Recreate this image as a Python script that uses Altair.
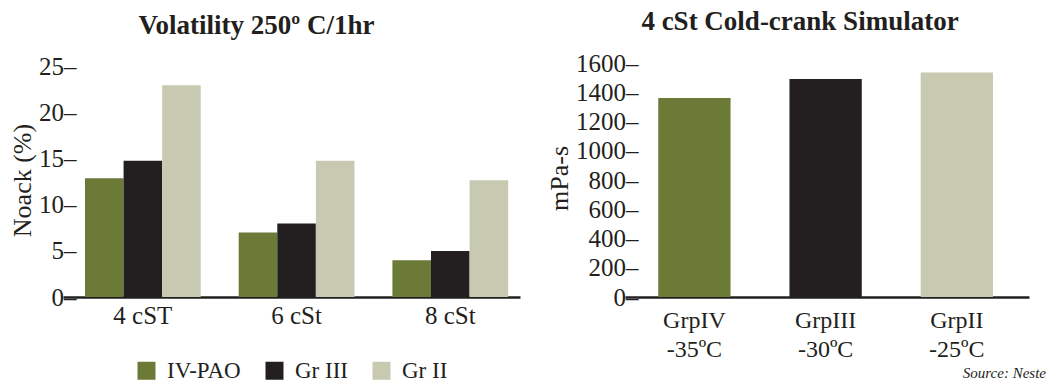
import altair as alt
import pandas as pd

# ---- data ----
categories = ["4 cST", "6 cSt", "8 cSt"]
series = ["IV-PAO", "Gr III", "Gr II"]
pao_vals = [12.9, 7.0, 4.0]
gr3_vals = [14.8, 8.0, 5.0]
gr2_vals = [23.0, 14.8, 12.7]

cold_groups = ["GrpIV|-35ºC", "GrpIII|-30ºC", "GrpII|-25ºC"]
cold_values = [1360, 1490, 1535]

colors = ["#6b7a37", "#231f20", "#c8c9b1"]
ink = "#231f20"
FONT = "Liberation Serif"

rows = []
for s, vals in zip(series, [pao_vals, gr3_vals, gr2_vals]):
    for c, v in zip(categories, vals):
        rows.append({"cat": c, "series": s, "value": v})
df_vol = pd.DataFrame(rows)
df_cold = pd.DataFrame({"grp": cold_groups, "value": cold_values, "color": colors})

H = 234

left = alt.Chart(df_vol).mark_bar().encode(
    x=alt.X("cat:N", sort=categories, title=None,
            scale=alt.Scale(paddingInner=0.247, paddingOuter=0.11, align=0.65),
            axis=alt.Axis(labelAngle=0, labelFontSize=25, labelPadding=6, ticks=False,
                          domainWidth=2.5, domainColor=ink, labelColor=ink, labelFont=FONT)),
    xOffset=alt.XOffset("series:N", sort=series),
    y=alt.Y("value:Q", title="Noack (%)",
            scale=alt.Scale(domain=[0, 25.43], nice=False),
            axis=alt.Axis(values=[0, 5, 10, 15, 20, 25], labelExpr="datum.label + '–'",
                          labelPadding=-13, labelFontSize=25, ticks=False, domain=False,
                          grid=False, labelColor=ink, labelFont=FONT,
                          titleFont=FONT, titleFontSize=26, titleFontWeight="normal",
                          titleColor=ink, titleX=-41, titleY=117, titleAngle=270,
                          titleAlign="center", titleBaseline="middle")),
    color=alt.Color("series:N", sort=series,
                    scale=alt.Scale(domain=series, range=colors),
                    legend=alt.Legend(title=None, orient="none", legendX=72, legendY=296,
                                      direction="horizontal", symbolType="square",
                                      symbolSize=324, symbolStrokeWidth=0, symbolOpacity=1,
                                      labelFont=FONT, labelFontSize=23, labelColor=ink,
                                      labelOffset=9, columnPadding=22)),
).properties(
    width=457, height=H,
    title=alt.TitleParams("Volatility 250º C/1hr", font=FONT, fontSize=27, fontWeight="bold",
                          color=ink, anchor="middle", frame="group", dx=-35, offset=-6,
                          baseline="alphabetic"),
)

bars = alt.Chart(df_cold).mark_bar().encode(
    x=alt.X("grp:N", sort=cold_groups, title=None,
            scale=alt.Scale(paddingInner=0.449, paddingOuter=0.264, align=0.48),
            axis=alt.Axis(labelAngle=0, labelFontSize=24, labelPadding=11, ticks=False,
                          labelExpr="split(datum.label, '|')", labelLineHeight=29,
                          domainWidth=2.5, domainColor=ink, labelColor=ink, labelFont=FONT)),
    y=alt.Y("value:Q", title="mPa-s",
            scale=alt.Scale(domain=[0, 1600], nice=False),
            axis=alt.Axis(values=list(range(0, 1601, 200)), labelExpr="datum.label + '–'",
                          format="d",
                          labelPadding=-13, labelFontSize=25, ticks=False, domain=False,
                          grid=False, labelColor=ink, labelFont=FONT,
                          titleFont=FONT, titleFontSize=26, titleFontWeight="normal",
                          titleColor=ink, titleX=-66, titleY=115, titleAngle=270,
                          titleAlign="center", titleBaseline="middle")),
    color=alt.Color("color:N", scale=None),
)

source = alt.Chart(pd.DataFrame({"t": ["Source: Neste"]})).mark_text(
    font=FONT, fontSize=15, fontStyle="italic", align="right", baseline="alphabetic",
    color=ink,
).encode(text="t:N", x=alt.value(421), y=alt.value(315))

right = alt.layer(bars, source).properties(
    width=404, height=H,
    title=alt.TitleParams("4 cSt Cold-crank Simulator", font=FONT, fontSize=27, fontWeight="bold",
                          color=ink, anchor="middle", frame="group", dx=-27, offset=-6,
                          baseline="alphabetic"),
)

chart = alt.hconcat(left, right, spacing=105, bounds="flush").resolve_scale(
    color="independent"
).properties(
    autosize=alt.AutoSizeParams(type="pad"),
    padding={"left": 9, "top": 8, "right": 10, "bottom": 3},
).configure(background="white").configure_view(stroke=None)

chart.save("out.html", embed_options={"renderer": "svg", "actions": False})
